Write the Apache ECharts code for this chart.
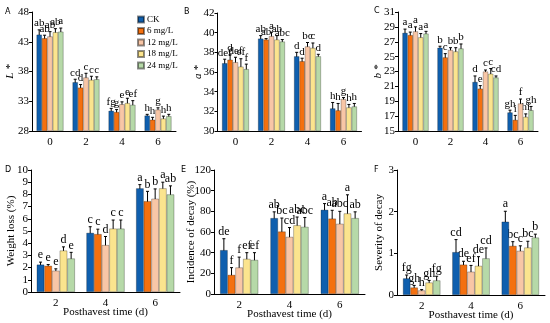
<!DOCTYPE html>
<html><head><meta charset="utf-8">
<script src="https://cdn.jsdelivr.net/npm/echarts@6/dist/echarts.min.js"></script>
<style>html,body{margin:0;padding:0;background:#fff}#c{width:550px;height:323px}</style>
</head><body><div id="c"></div>
<script>
const treatments = ['CK', '6 mg/L', '12 mg/L', '18 mg/L', '24 mg/L'];
const colors = ['#0f5fae', '#f4700f', '#f8c6a6', '#fbe48e', '#b6d9a8'];
const daysTop = ['0', '2', '4', '6'];
const daysBottom = ['2', '4', '6'];

// A: L*  (rows = treatments, columns = days)
const L_mean = [[44.2,36.2,31.4,30.6],[43.6,35.3,31.2,29.9],[43.9,37.0,32.5,31.6],[44.6,36.6,32.7,30.1],[44.7,36.7,32.4,30.5]];
const L_err  = [[0.8,0.5,0.4,0.2],[0.5,0.5,0.4,0.4],[0.8,0.7,0.4,0.3],[0.6,0.6,0.8,0.4],[0.6,0.4,0.7,0.3]];
const L_sig  = [['ab','cd','fg','h'],['ab','d','g','h'],['ab','c','e','g'],['ab','c','e','h'],['a','c','ef','h']];
// B: a*
const a_mean = [[36.9,39.4,37.6,32.3],[37.25,39.3,37.1,32.1],[37.0,39.65,38.6,33.25],[36.55,39.3,38.45,32.4],[36.3,39.1,37.6,32.5]];
const a_err  = [[0.4,0.3,0.4,0.6],[0.5,0.1,0.3,0.7],[0.5,0.4,0.4,0.15],[0.8,0.4,0.5,0.3],[0.5,0.2,0.2,0.3]];
const a_sig  = [['def','ab','d','h'],['d','ab','d','h'],['def','a','bc','g'],['ef','ab','c','h'],['f','abc','d','h']];
// C: b*
const b_mean = [[28.2,26.2,21.6,17.5],[27.9,24.9,20.7,16.5],[28.4,25.9,23.0,18.7],[27.6,25.7,22.7,16.9],[28.1,26.1,22.2,17.8]];
const b_err  = [[0.5,0.2,0.8,0.3],[0.4,0.5,0.4,0.6],[0.6,0.3,0.2,0.6],[0.5,0.5,0.7,0.4],[0.3,0.6,0.2,0.5]];
const b_sig  = [['a','b','d','gh'],['a','c','e','i'],['a','b','c','f'],['a','b','c','hi'],['a','b','cd','gh']];
// D: weight loss (%)
const wl_mean = [[2.25,4.85,8.5],[2.15,4.75,7.45],[1.75,3.85,7.65],[3.4,5.2,8.5],[2.75,5.2,8.0]];
const wl_err  = [[0.2,0.5,0.3],[0.1,0.4,0.8],[0.15,0.7,0.8],[0.3,0.7,0.5],[0.5,0.7,0.7]];
const wl_sig  = [['e','c','a'],['e','c','b'],['e','d','b'],['d','c','a'],['e','c','ab']];
// E: incidence of decay (%)
const inc_mean = [[42.5,73.5,81.5],[18.5,60.5,73],[25.7,55.3,68],[34,66.5,78],[33,65,73.5]];
const inc_err  = [[11,6,6],[7,13,8],[10,9,12],[6,8,18],[7,9,6]];
const inc_sig  = [['de','ab','a'],['f','bc','ab'],['f','cd','abc'],['ef','abc','a'],['ef','abc','ab']];
// F: severity of decay
const sev_mean = [[0.40,1.03,1.76],[0.18,0.73,1.18],[0.11,0.56,1.06],[0.30,0.70,1.14],[0.35,0.88,1.38]];
const sev_err  = [[0.08,0.30,0.25],[0.05,0.08,0.10],[0.02,0.15,0.12],[0.05,0.22,0.15],[0.10,0.25,0.08]];
const sev_sig  = [['fg','cd','a'],['gh','de','bc'],['h','ef','c'],['gh','de','bc'],['fg','cd','b']];

const serif = 'Liberation Serif';
const panels = [
  {tag:'A', cats:daysTop, mean:L_mean, err:L_err, sig:L_sig, min:28, max:48, step:5, name:'L *', italic:true, grid:{left:32,top:12,width:144,height:119}, gap:0.25, nameGap:16, xname:'', sigSize:11},
  {tag:'B', cats:daysTop, mean:a_mean, err:a_err, sig:a_sig, min:30, max:42, step:2, name:'a *', italic:true, grid:{left:217.5,top:13,width:144,height:118}, gap:0.25, nameGap:13.5, xname:'', sigSize:11},
  {tag:'C', cats:daysTop, mean:b_mean, err:b_err, sig:b_sig, min:15, max:31, step:2, name:'b *', italic:true, grid:{left:398,top:12,width:140,height:119}, gap:0.25, nameGap:14, xname:'', sigSize:11},
  {tag:'D', cats:daysBottom, mean:wl_mean, err:wl_err, sig:wl_sig, min:0, max:10, step:1, name:'Weight loss (%)', italic:false, grid:{left:31,top:170,width:149,height:122}, gap:0.23, nameGap:14.5, xname:'Posthavest time (d)', sigSize:12},
  {tag:'E', cats:daysBottom, mean:inc_mean, err:inc_err, sig:inc_sig, min:0, max:120, step:20, name:'Incidence of decay (%)', italic:false, grid:{left:214,top:170,width:151,height:124}, gap:0.24, nameGap:17.5, xname:'Posthavest time (d)', sigSize:12},
  {tag:'F', cats:daysBottom, mean:sev_mean, err:sev_err, sig:sev_sig, min:0, max:3, step:1, name:'Severity of decay', italic:false, grid:{left:397,top:170,width:148,height:125}, gap:0.24, nameGap:12.5, xname:'Posthavest time (d)', sigSize:12}
];

const grids = [], xAxes = [], yAxes = [], series = [], graphics = [];
panels.forEach((p, pi) => {
  grids.push(p.grid);
  xAxes.push({
    type:'category', gridIndex:pi, data:p.cats,
    axisLine:{lineStyle:{color:'#000', width:1}},
    axisTick:{alignWithLabel:true, length:3, lineStyle:{color:'#000'}},
    axisLabel:{color:'#000', fontFamily:serif, fontSize:11, margin:6},
    name:p.xname, nameLocation:'middle', nameGap:15, nameMoveOverlap:false,
    nameTextStyle:{color:'#000', fontFamily:serif, fontSize:11}
  });
  yAxes.push({
    type:'value', gridIndex:pi, min:p.min, max:p.max, interval:p.step, startValue:p.min,
    axisLine:{show:true, lineStyle:{color:'#000', width:1}},
    axisTick:{show:true, length:3, lineStyle:{color:'#000'}},
    splitLine:{show:false},
    axisLabel:{color:'#000', fontFamily:serif, fontSize:11, margin:3},
    name:p.name, nameLocation:'middle', nameGap:p.nameGap, nameRotate:90, nameMoveOverlap:false,
    nameTextStyle:{color:'#000', fontFamily:serif, fontSize:11, fontStyle:p.italic?'italic':'normal'}
  });
  p.mean.forEach((row, ti) => {
    series.push({
      type:'bar', name:treatments[ti], xAxisIndex:pi, yAxisIndex:pi,
      data:row, barGap:'0%', barCategoryGap:(p.gap*100)+'%',
      itemStyle:{color:colors[ti], borderColor:'rgba(0,0,0,0.45)', borderWidth:0.6},
      silent:true, animation:false
    });
  });
  p.mean.forEach((row, ti) => {
    series.push({
      type:'custom', xAxisIndex:pi, yAxisIndex:pi, silent:true, animation:false, clip:false,
      data: row.map((v, di) => [di, v, p.err[ti][di]]),
      renderItem: (params, api) => {
        const di = api.value(0), m = api.value(1), e = api.value(2);
        const c = api.coord([di, m]);
        const band = api.size([1, 0])[0];
        const bw = band * (1 - p.gap) / 5;
        const x = c[0] + (ti - 2) * bw;
        const yt = api.coord([di, m + e])[1];
        const yb = api.coord([di, m - e])[1];
        const ls = {stroke:'#000', lineWidth:1};
        return {type:'group', children:[
          {type:'line', shape:{x1:x, y1:yt, x2:x, y2:yb}, style:ls},
          {type:'line', shape:{x1:x-1.5, y1:yt, x2:x+1.5, y2:yt}, style:ls},
          {type:'line', shape:{x1:x-1.5, y1:yb, x2:x+1.5, y2:yb}, style:ls},
          {type:'text', x:x, y:yt-1, style:{text:p.sig[ti][params.dataIndex], fill:'#000', font:p.sigSize+'px "Liberation Serif"', textAlign:'center', textVerticalAlign:'bottom'}}
        ]};
      }
    });
  });
});

const tagPos = {A:[5,8], B:[184,8], C:[374,7], D:[5,166], E:[181,166], F:[374,166]};
panels.forEach(p => {
  graphics.push({type:'text', left:tagPos[p.tag][0], top:tagPos[p.tag][1], style:{text:p.tag, fill:'#000', font:'8px "DejaVu Sans"'}});
});

const chart = echarts.init(document.getElementById('c'), null, {renderer:'canvas'});
chart.setOption({
  animation:false,
  backgroundColor:'#fff',
  grid:grids, xAxis:xAxes, yAxis:yAxes, series:series, graphic:graphics,
  legend:{
    data:treatments, orient:'vertical', left:132, top:10, itemWidth:6, itemHeight:6, itemGap:2.5,
    icon:'rect', textStyle:{color:'#000', fontFamily:serif, fontSize:9, padding:[0,0,0,-2]},
    selectedMode:false
  }
});
</script></body></html>
